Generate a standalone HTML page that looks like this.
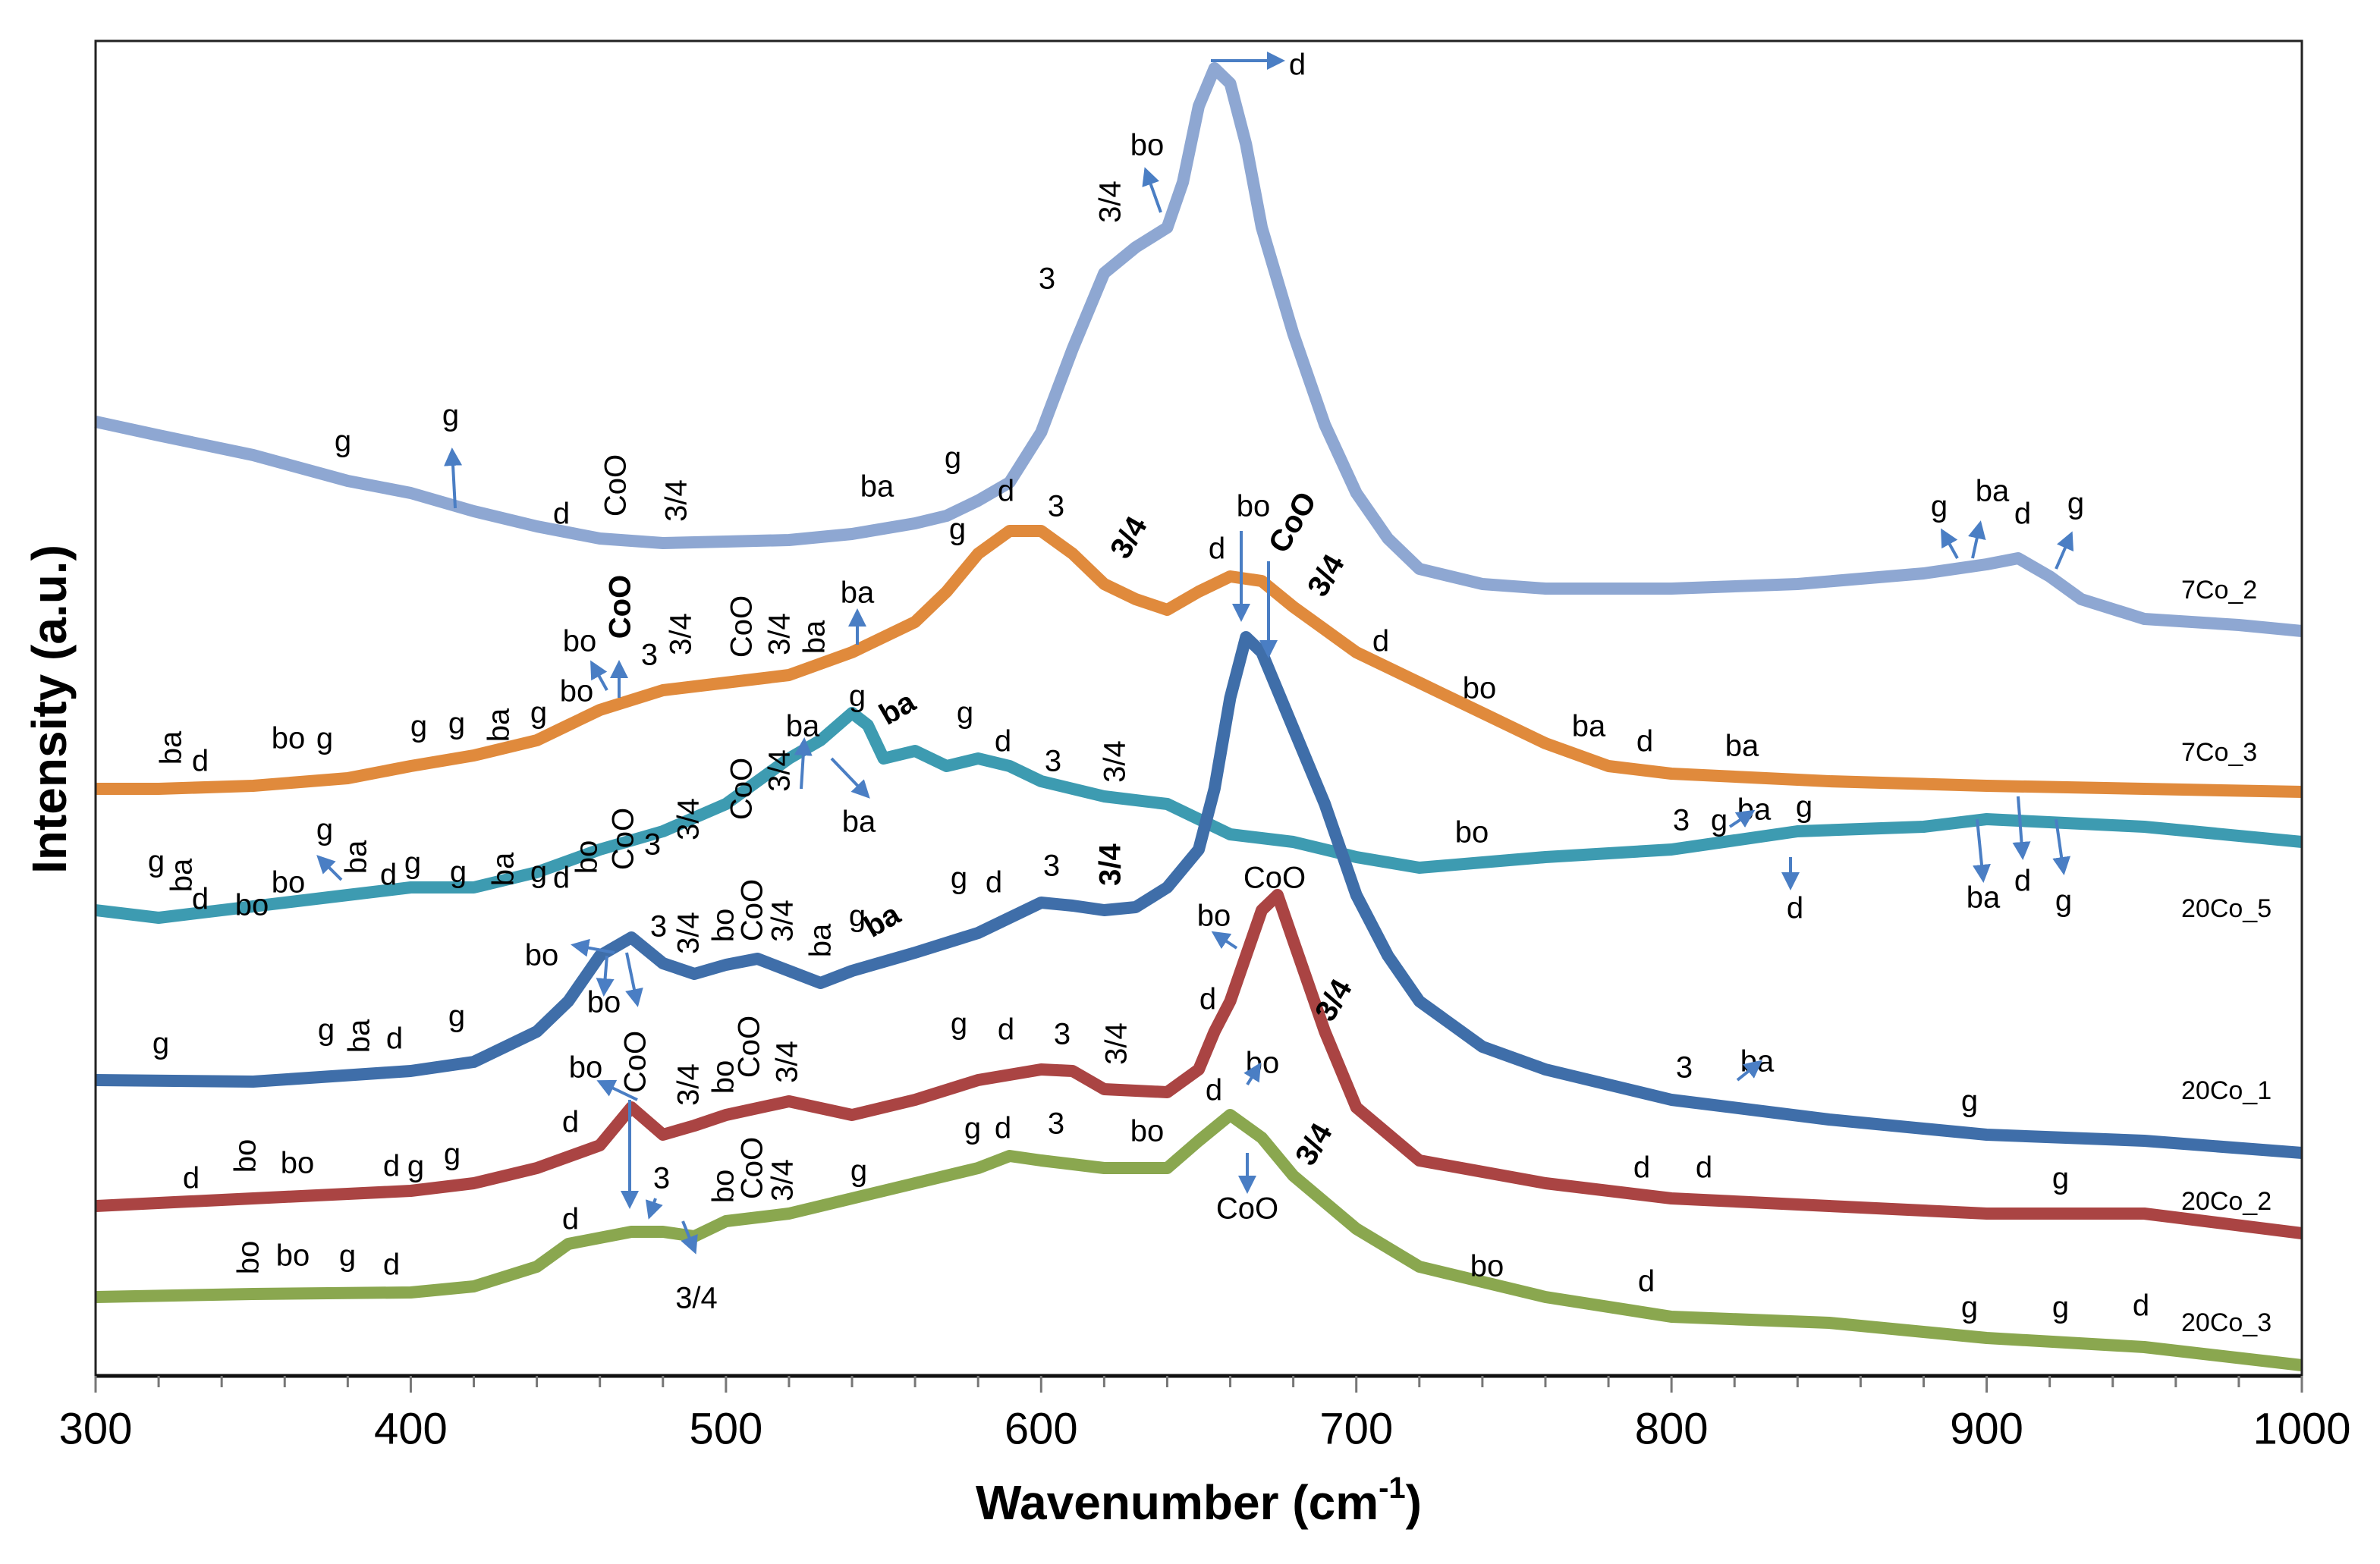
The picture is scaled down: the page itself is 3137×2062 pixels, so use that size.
<!DOCTYPE html>
<html><head><meta charset="utf-8"><style>
html,body{margin:0;padding:0;background:#fff}
svg{display:block}
text{font-family:"Liberation Sans",sans-serif}
</style></head><body>
<svg id="chart" width="3137" height="2062" viewBox="0 0 3137 2062" xmlns="http://www.w3.org/2000/svg">
<defs><marker id="ah" markerWidth="6" markerHeight="6" refX="5" refY="3" orient="auto" markerUnits="strokeWidth"><path d="M0,0 L6,3 L0,6 z" fill="#4A7EC4"/></marker></defs>
<g id="series"></g>
<g id="annots"></g>
<g id="axes"></g>
</svg>
<script>
const xValues=[300,320,350,380,400,420,440,450,460,470,480,490,500,510,520,530,540,545,550,560,570,580,590,600,610,620,630,640,645,650,655,660,665,670,675,680,690,700,710,720,740,760,780,800,840,850,880,900,910,920,930,950,980,1000];
// intensities (arbitrary units), null = not sampled
const s7Co2 =[629,620,607,590,582,570,560,null,552,null,549,null,550,null,551,null,555,null,null,562,567,577,589,622,677,727,744,757,787,837,862,852,812,757,null,687,627,582,552,532,522,519,null,519,522,null,529,535,539,527,512,499,495,491];
const s7Co3 =[387,387,389,394,402,409,419,429,439,null,452,null,457,null,462,null,477,null,null,497,517,542,557,557,542,522,512,505,null,517,null,527,null,524,null,507,492,477,null,457,437,417,402,397,null,392,null,389,null,null,null,387,null,385];
const s20Co5=[307,302,null,317,322,322,332,null,347,null,359,null,377,392,407,419,437,429,407,412,402,407,402,392,null,382,null,377,null,null,null,357,null,null,null,352,null,342,null,335,null,342,null,347,359,null,362,367,null,null,null,362,null,352];
const s20Co1=[195,null,194,null,201,207,227,247,277,289,272,265,271,275,267,259,267,null,null,279,null,292,null,312,310,307,309,322,null,347,387,447,487,477,null,427,377,317,277,247,217,202,null,182,null,169,null,159,null,null,null,155,null,147];
const s20Co2=[112,null,117,null,122,127,137,null,152,177,159,165,172,null,181,null,172,null,null,182,null,195,null,202,201,189,null,187,null,202,227,247,null,307,317,287,227,177,null,142,null,127,null,117,null,112,null,107,null,null,null,107,null,94];
const s20Co3=[52,null,54,null,55,59,72,87,null,95,95,92,102,null,107,null,117,null,null,127,null,137,145,142,null,137,null,137,null,155,null,172,null,157,null,132,null,97,null,72,null,52,null,39,null,35,null,25,null,null,null,19,null,7];
const seriesNames=["7Co_2","7Co_3","20Co_5","20Co_1","20Co_2","20Co_3"];
const seriesData=[s7Co2,s7Co3,s20Co5,s20Co1,s20Co2,s20Co3];
const seriesColors=["#8EA7D2","#E08A3C","#3D9BB1","#3F6EA9","#AA4443","#8AA74F"];
const xTicks=[300,400,500,600,700,800,900,1000];

const L=126,R=3034,T=54,B=1814;
const xs=v=>L+(v-300)/700*(R-L);
const ys=v=>B-v*2;
const NS="http://www.w3.org/2000/svg";
function mk(tag,attrs,parent){const e=document.createElementNS(NS,tag);for(const k in attrs)e.setAttribute(k,attrs[k]);parent.appendChild(e);return e;}

const sg=document.getElementById('series');
seriesData.forEach((arr,i)=>{
  let d="";
  arr.forEach((v,j)=>{if(v===null)return;d+=(d?"L":"M")+xs(xValues[j]).toFixed(1)+","+ys(v).toFixed(1);});
  const p=mk('path',{d:d,fill:"none",stroke:seriesColors[i],"stroke-width":16,"stroke-linejoin":"round"},sg);
  
  
});

const labels=[
["d",855,44,0],["bo",756,97,0],["3/4",733,133,-90],["3",690,185,0],["g",226,292,0],["g",297,275,0],["d",370,340,0],["CoO",407,320,-90],["3/4",447,330,-90],["ba",578,322,0],["g",628,303,0],["d",663,325,0],["3",696,335,0],["3/4",745,355,-60,1],["bo",826,335,0],["CoO",853,345,-60,1],["d",802,363,0],["3/4",875,380,-60,1],["g",631,350,0],["d",910,424,0],["bo",975,455,0],["ba",1047,480,0],["d",1084,490,0],["ba",1148,493,0],["g",1278,335,0],["ba",1313,325,0],["d",1333,340,0],["g",1368,333,0],
["ba",114,493,-90],["d",132,503,0],["bo",190,488,0],["g",214,488,0],["g",276,480,0],["g",301,478,0],["ba",330,478,-90],["g",355,471,0],["bo",382,424,0],["CoO",410,400,-90,1],["bo",380,457,0],["3",428,433,0],["3/4",450,418,-90],["CoO",490,413,-90],["3/4",515,418,-90],["ba",538,420,-90],["ba",565,392,0],
["ba",529,480,0],["g",565,460,0],["ba",592,468,-30,1],["g",636,471,0],["d",661,490,0],["3",694,503,0],["3/4",736,502,-90],["ba",566,543,0],["CoO",490,520,-90],["3/4",515,508,-90],["3",430,558,0],["3/4",455,540,-90],["CoO",412,553,-90],["bo",388,565,-90],["d",370,580,0],["g",355,576,0],["ba",333,573,-90],["g",302,576,0],["g",272,570,0],["d",256,578,0],["ba",236,565,-90],["g",214,548,0],["bo",190,583,0],["bo",166,598,0],["d",132,594,0],["ba",121,577,-90],["g",103,569,0],["bo",970,550,0],["3",1108,542,0],["g",1133,542,0],["ba",1156,535,0],["g",1189,533,0],["d",1183,600,0],["ba",1307,593,0],["d",1333,582,0],["g",1360,595,0],
["CoO",840,580,0],["3/4",733,570,-90,1],["g",632,580,0],["d",655,583,0],["3",693,572,0],["bo",800,605,0],["bo",357,631,0],["bo",398,662,0],["3",434,612,0],["3/4",455,615,-90],["bo",478,610,-90],["CoO",497,600,-90],["3/4",517,607,-90],["ba",542,620,-90],["g",565,605,0],["ba",582,608,-30,1],["g",106,689,0],["g",215,680,0],["ba",238,683,-90],["d",260,686,0],["g",301,671,0],["3",1110,705,0],["ba",1158,701,0],["g",1298,727,0],
["d",796,660,0],["3/4",880,660,-60,1],["g",632,676,0],["d",663,680,0],["3",700,683,0],["3/4",737,688,-90],["bo",386,705,0],["CoO",420,700,-90],["d",376,741,0],["3/4",455,715,-90],["bo",478,710,-90],["3/4",520,700,-90],["CoO",495,690,-90],["d",800,720,0],["bo",832,702,0],["d",126,778,0],["bo",163,762,-90],["bo",196,768,0],["d",258,770,0],["g",274,770,0],["g",298,762,0],["d",1082,771,0],["d",1123,771,0],["g",1358,778,0],
["g",641,745,0],["d",661,745,0],["3",696,742,0],["bo",756,747,0],["3/4",867,755,-60,1],["CoO",822,798,0],["d",376,805,0],["3",436,778,0],["3/4",459,857,0],["bo",478,782,-90],["CoO",497,770,-90],["3/4",517,778,-90],["g",566,773,0],["bo",165,829,-90],["bo",193,829,0],["g",229,829,0],["d",258,835,0],["bo",980,836,0],["d",1085,846,0],["g",1298,863,0],["g",1358,863,0],["d",1411,862,0]
];
const ag=document.getElementById('annots');
labels.forEach(l=>{
  const t=mk('text',{x:l[1]*2,y:l[2]*2,"font-size":40,"text-anchor":"middle","dominant-baseline":"middle","font-weight":l[4]?"bold":"normal",transform:"rotate("+l[3]+" "+l[1]*2+" "+l[2]*2+")"},ag);
  t.textContent=l[0];
  
  
});
const arrows=[[798,40,845,40],[765,140,755,112],[300,335,298,297],[818,350,818,408],[836,370,836,432],[408,460,408,437],[400,455,390,437],[565,425,565,403],[528,520,530,488],[548,500,572,525],[405,628,378,623],[413,628,420,662],[400,630,398,655],[415,725,415,795],[420,725,395,713],[432,790,428,802],[450,805,458,825],[822,760,822,785],[815,625,800,615],[822,715,830,702],[1330,525,1333,565],[1303,540,1307,580],[1355,540,1360,575],[1180,565,1180,585],[1290,368,1280,350],[1300,368,1305,345],[1355,375,1365,352],[225,580,210,565],[1145,712,1160,700],[1140,545,1155,535]];
arrows.forEach(a=>{
  const ln=mk('line',{x1:a[0]*2,y1:a[1]*2,x2:a[2]*2,y2:a[3]*2,stroke:"#4A7EC4","stroke-width":4,"marker-end":"url(#ah)"},ag);
  
  
});
const legendY=[390,497,600,720,793,873];
seriesNames.forEach((n,i)=>{
  const t=mk('text',{x:2875,y:legendY[i]*2,"font-size":34,"text-anchor":"start","dominant-baseline":"middle"},ag);
  t.textContent=n;
  
  
});

const ax=document.getElementById('axes');
const frame=mk('path',{d:`M${L},${B} L${L},${T} L${R},${T} L${R},${B}`,fill:"none",stroke:"#222","stroke-width":3},ax);


const xa=mk('line',{x1:L,y1:B,x2:R,y2:B,stroke:"#111","stroke-width":5},ax);


for(let v=300;v<=1000;v+=20){
  const major=v%100===0;
  const tk=mk('line',{x1:xs(v),y1:B,x2:xs(v),y2:B+(major?22:15),stroke:"#777","stroke-width":3},ax);
  
  
}
xTicks.forEach(v=>{
  const t=mk('text',{x:xs(v),y:1888,"font-size":58,"text-anchor":"middle","dominant-baseline":"middle"},ax);
  t.textContent=v;
  
  
});
const xt=mk('text',{x:1580,y:1986,"font-size":64,"font-weight":"bold","text-anchor":"middle","dominant-baseline":"middle"},ax);
xt.innerHTML='Wavenumber (cm<tspan dy="-22" font-size="40">-1</tspan><tspan dy="22">)</tspan>';


const yt=mk('text',{x:70,y:935,"font-size":64,"font-weight":"bold","text-anchor":"middle","dominant-baseline":"middle",transform:"rotate(-90 70 935)"},ax);
yt.textContent='Intensity (a.u.)';


</script>
</body></html>
